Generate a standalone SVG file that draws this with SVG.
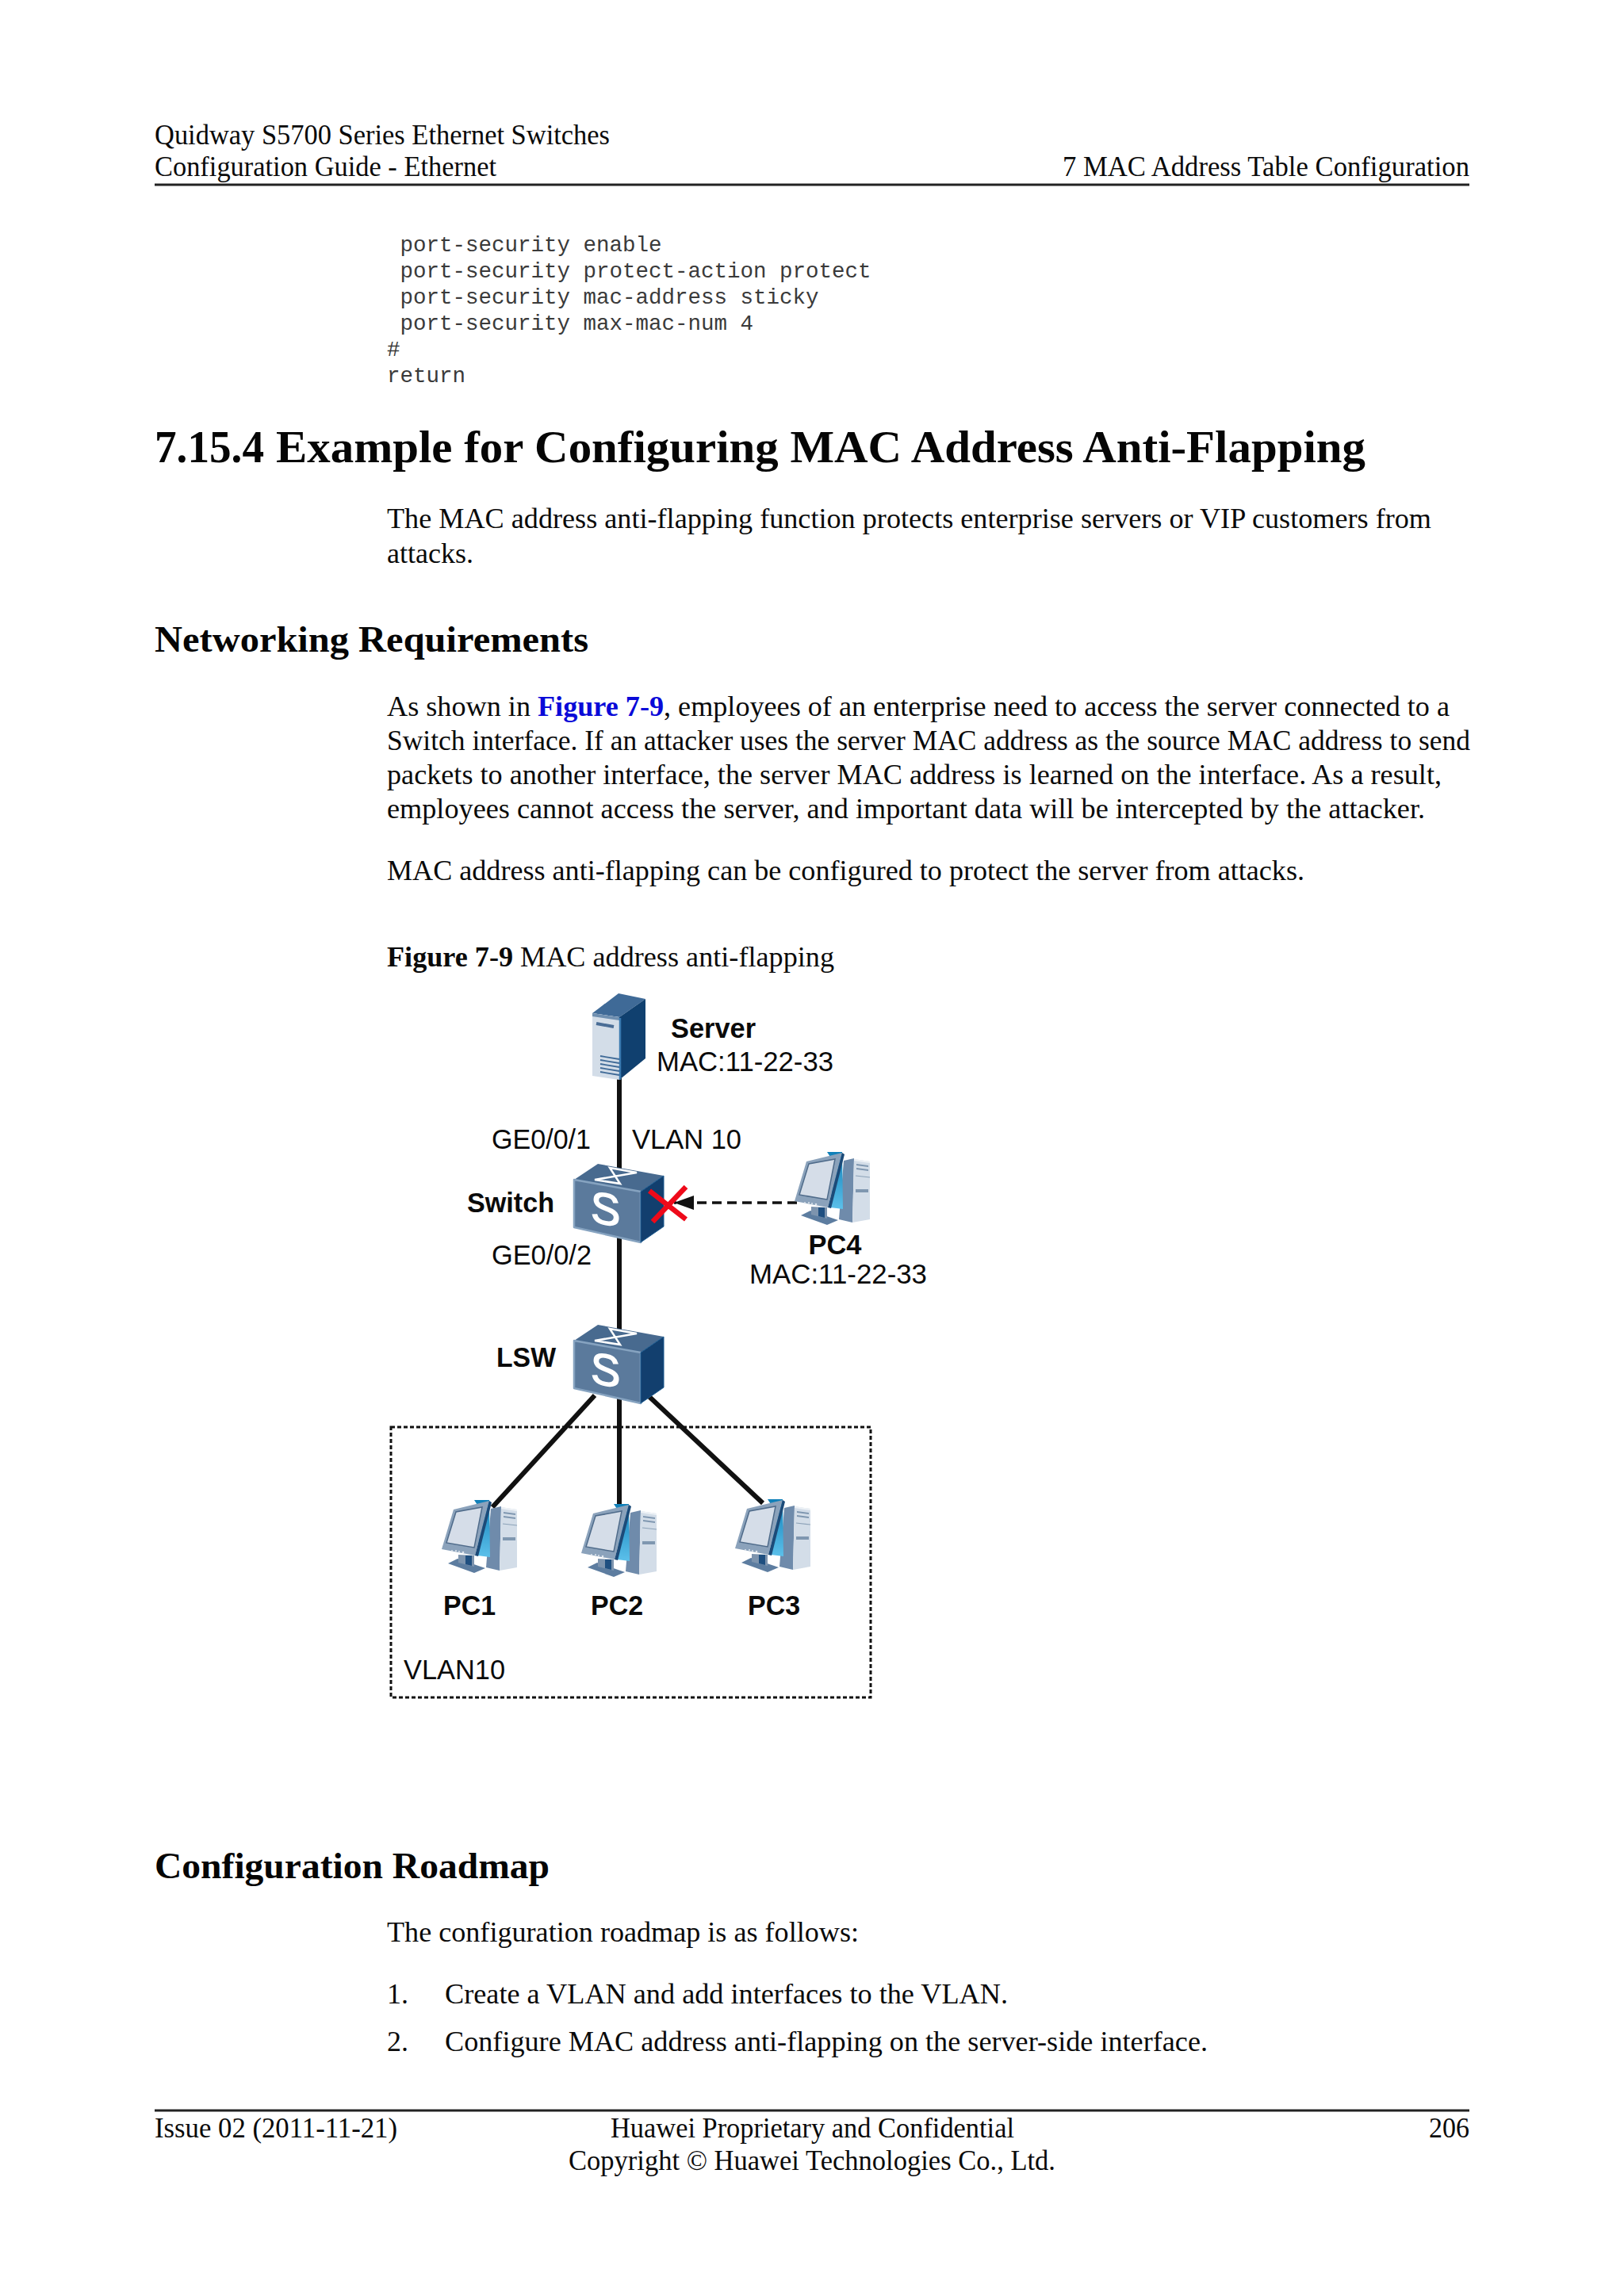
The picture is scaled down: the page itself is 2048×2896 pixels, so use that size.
<svg xmlns="http://www.w3.org/2000/svg" width="2048" height="2896" viewBox="0 0 2048 2896">
<style>
.b{font-family:"Liberation Serif",serif;font-size:36px;fill:#0a0a0a}
.bb{font-family:"Liberation Serif",serif;font-size:36px;font-weight:bold;fill:#0a0a0a}
.lnk{font-family:"Liberation Serif",serif;font-size:36px;font-weight:bold;fill:#0a0ad8}
.h1{font-family:"Liberation Serif",serif;font-size:58px;font-weight:bold;fill:#050505}
.h2{font-family:"Liberation Serif",serif;font-size:47px;font-weight:bold;fill:#050505}
.c{font-family:"Liberation Mono",monospace;font-size:27.5px;fill:#3a3a3a}
.l{font-family:"Liberation Sans",Arial,sans-serif;font-size:35px;fill:#0a0a0a}
.lb{font-family:"Liberation Sans",Arial,sans-serif;font-size:35px;font-weight:bold;fill:#0a0a0a}
.s{font-family:"Liberation Sans",Arial,sans-serif;font-size:56px;fill:#fff;stroke:#fff;stroke-width:1.5}
.wire{stroke:#111;stroke-width:6;fill:none}
.rule{stroke:#222;stroke-width:3}
</style>
<defs>
<linearGradient id="blue" x1="0" y1="0" x2="0" y2="1"><stop offset="0" stop-color="#0f7fb8"/><stop offset="1" stop-color="#5cc0ea"/></linearGradient>
<marker id="ah" markerUnits="userSpaceOnUse" markerWidth="26" markerHeight="20" refX="25" refY="9" orient="auto"><path d="M25 9L0 0V18Z" fill="#111"/></marker>
<symbol id="pc" width="96" height="93" viewBox="0 0 96 93" overflow="visible">
<path d="M62 11L75 8L73 89L56 85Z" fill="#6f8bab"/>
<path d="M75 9L95 12V85L73 89Z" fill="#d3dde8"/>
<path d="M75 9L95 12V14L75 11Z" fill="#eef2f6"/>
<path d="M78 15L93 17V19L78 17ZM78 20L93 22V24L78 22Z" fill="#7f97b0"/>
<path d="M77 30L95 32" stroke="#8ca2b8" stroke-width="1.2" fill="none"/>
<path d="M77 47L93 47V51L77 51Z" fill="#7f97b0"/>
<path d="M41 0H60L61 72L45 70L50 14Z" fill="url(#blue)"/>
<path d="M8 80L20 74L55 86L41 92Z" fill="#5d7da0"/>
<path d="M21 69L41 70V84L21 79Z" fill="#7d94ae"/>
<path d="M30 70L38 70V83L30 81Z" fill="#1f4f80"/>
<path d="M0 62L15 12L60 1L42 70Z" fill="#8ba2bb"/>
<path d="M60 1L63 3L46 71L42 70Z" fill="#1c4a78"/>
<path d="M6 54L18 15L51 9L41 60Z" fill="#d5dde8" stroke="#4f6b8a" stroke-width="1.5"/>
<g fill="#dfe6ee"><circle cx="13" cy="64" r="1"/><circle cx="18" cy="64" r="1"/><circle cx="22" cy="65" r="1"/><circle cx="27" cy="66" r="1.3"/></g>
</symbol>
<symbol id="sw" width="114" height="100" viewBox="0 0 114 100" overflow="visible">
<path d="M0 20L30 0L113 15L84 35Z" fill="#486a8f"/>
<path d="M0 20L84 35V99L0 80Z" fill="#5b7a9c" stroke="#86a3c0" stroke-width="2.5" stroke-linejoin="round"/>
<path d="M84 35L113 15V79L84 99Z" fill="#123f6e" stroke="#1a5a90" stroke-width="1"/>
<path d="M45 5L79 11L26 20L58 25Z" fill="none" stroke="#fff" stroke-width="2.5"/>
</symbol>
</defs>
<rect width="2048" height="2896" fill="#fff"/>

<g id="page-text">
<text class="b" x="195" y="182" textLength="574" lengthAdjust="spacingAndGlyphs">Quidway S5700 Series Ethernet Switches</text>
<text class="b" x="195" y="222" textLength="431" lengthAdjust="spacingAndGlyphs">Configuration Guide - Ethernet</text>
<text class="b" x="1340" y="222" textLength="513" lengthAdjust="spacingAndGlyphs">7 MAC Address Table Configuration</text>
<line class="rule" x1="195" y1="233" x2="1853" y2="233"/>
<text class="c" x="504.5" y="317">port-security enable</text>
<text class="c" x="504.5" y="350">port-security protect-action protect</text>
<text class="c" x="504.5" y="383">port-security mac-address sticky</text>
<text class="c" x="504.5" y="416">port-security max-mac-num 4</text>
<text class="c" x="488" y="449">#</text>
<text class="c" x="488" y="482">return</text>
<text class="h1" x="195" y="583" textLength="138" lengthAdjust="spacingAndGlyphs">7.15.4</text>
<text class="h1" x="348" y="583" textLength="1374" lengthAdjust="spacingAndGlyphs">Example for Configuring MAC Address Anti-Flapping</text>
<text class="b" x="488" y="666" textLength="1317" lengthAdjust="spacingAndGlyphs">The MAC address anti-flapping function protects enterprise servers or VIP customers from</text>
<text class="b" x="488" y="710" textLength="109" lengthAdjust="spacingAndGlyphs">attacks.</text>
<text class="h2" x="195" y="822" textLength="547" lengthAdjust="spacingAndGlyphs">Networking Requirements</text>
<text class="b" x="488" y="903" textLength="181" lengthAdjust="spacingAndGlyphs">As shown in</text>
<text class="lnk" x="678" y="903" textLength="159" lengthAdjust="spacingAndGlyphs">Figure 7-9</text>
<text class="b" x="837" y="903" textLength="991" lengthAdjust="spacingAndGlyphs">, employees of an enterprise need to access the server connected to a</text>
<text class="b" x="488" y="946" textLength="1366" lengthAdjust="spacingAndGlyphs">Switch interface. If an attacker uses the server MAC address as the source MAC address to send</text>
<text class="b" x="488" y="989" textLength="1330" lengthAdjust="spacingAndGlyphs">packets to another interface, the server MAC address is learned on the interface. As a result,</text>
<text class="b" x="488" y="1032" textLength="1309" lengthAdjust="spacingAndGlyphs">employees cannot access the server, and important data will be intercepted by the attacker.</text>
<text class="b" x="488" y="1110" textLength="1157" lengthAdjust="spacingAndGlyphs">MAC address anti-flapping can be configured to protect the server from attacks.</text>
<text class="bb" x="488" y="1219" textLength="159" lengthAdjust="spacingAndGlyphs">Figure 7-9</text>
<text class="b" x="656" y="1219" textLength="396" lengthAdjust="spacingAndGlyphs">MAC address anti-flapping</text>
<text class="h2" x="195" y="2369" textLength="498" lengthAdjust="spacingAndGlyphs">Configuration Roadmap</text>
<text class="b" x="488" y="2449" textLength="595" lengthAdjust="spacingAndGlyphs">The configuration roadmap is as follows:</text>
<text class="b" x="488" y="2527">1.</text>
<text class="b" x="561" y="2527" textLength="710" lengthAdjust="spacingAndGlyphs">Create a VLAN and add interfaces to the VLAN.</text>
<text class="b" x="488" y="2587">2.</text>
<text class="b" x="561" y="2587" textLength="962" lengthAdjust="spacingAndGlyphs">Configure MAC address anti-flapping on the server-side interface.</text>
<line class="rule" x1="195" y1="2662" x2="1853" y2="2662"/>
<text class="b" x="195" y="2696" textLength="306" lengthAdjust="spacingAndGlyphs">Issue 02 (2011-11-21)</text>
<text class="b" x="770" y="2696" textLength="509" lengthAdjust="spacingAndGlyphs">Huawei Proprietary and Confidential</text>
<text class="b" x="1802" y="2696" textLength="51" lengthAdjust="spacingAndGlyphs">206</text>
<text class="b" x="717" y="2737" textLength="614" lengthAdjust="spacingAndGlyphs">Copyright © Huawei Technologies Co., Ltd.</text>
</g>

<g id="connectors">
<line class="wire" x1="781" y1="1360" x2="781" y2="1480"/>
<line class="wire" x1="781" y1="1560" x2="781" y2="1680"/>
<line class="wire" x1="781" y1="1760" x2="781" y2="1897"/>
<line class="wire" x1="750" y1="1760" x2="621" y2="1901"/>
<line class="wire" x1="817" y1="1760" x2="962" y2="1896"/>
<line x1="1005" y1="1517" x2="850" y2="1517" stroke="#111" stroke-width="3.5" stroke-dasharray="12 7" marker-end="url(#ah)"/>
</g>

<g id="vlan10-box">
<rect x="493" y="1800" width="605" height="341" fill="none" stroke="#111" stroke-width="3" stroke-dasharray="5 3"/>
<text class="l" x="509" y="2118" textLength="128" lengthAdjust="spacingAndGlyphs">VLAN10</text>
</g>

<g id="server">
<path d="M747 1278L780 1253L814 1260L781 1283Z" fill="#3f6a97"/>
<path d="M747 1278L781 1283V1362L747 1357Z" fill="#d3dde8"/>
<path d="M747 1278L781 1283V1287L747 1282Z" fill="#6f8fb0"/>
<path d="M781 1283L814 1260V1335L781 1362Z" fill="#10406f"/>
<path d="M782 1284V1362" stroke="#3a7ab0" stroke-width="2.5"/>
<path d="M752 1291L774 1295" stroke="#4a6d96" stroke-width="4"/>
<path d="M757 1332L781 1336M757 1337L781 1341M757 1342L781 1346M757 1347L781 1351M757 1352L781 1356" stroke="#3f6a97" stroke-width="1.8" fill="none"/>
<text class="lb" x="846" y="1309" textLength="107" lengthAdjust="spacingAndGlyphs">Server</text>
<text class="l" x="828" y="1351" textLength="223" lengthAdjust="spacingAndGlyphs">MAC:11-22-33</text>
</g>

<g id="switch">
<use href="#sw" x="724" y="1468" width="114" height="100"/>
<text class="s" transform="translate(745 1541) skewY(10)">S</text>
<text class="lb" x="589" y="1529" textLength="110" lengthAdjust="spacingAndGlyphs">Switch</text>
<text class="l" x="620" y="1449" textLength="125" lengthAdjust="spacingAndGlyphs">GE0/0/1</text>
<text class="l" x="797" y="1449" textLength="138" lengthAdjust="spacingAndGlyphs">VLAN 10</text>
<text class="l" x="620" y="1595" textLength="126" lengthAdjust="spacingAndGlyphs">GE0/0/2</text>
<path d="M819 1502L865 1538M823 1541L865 1497" stroke="#ee0a1a" stroke-width="6.5" fill="none"/>
</g>

<g id="lsw">
<use href="#sw" x="724" y="1671" width="114" height="100"/>
<text class="s" transform="translate(745 1744) skewY(10)">S</text>
<text class="lb" x="626" y="1724" textLength="75" lengthAdjust="spacingAndGlyphs">LSW</text>
</g>

<g id="pc4">
<use href="#pc" x="1002" y="1453" width="96" height="93"/>
<text class="lb" x="1019.5" y="1582" textLength="67" lengthAdjust="spacingAndGlyphs">PC4</text>
<text class="l" x="945" y="1619" textLength="224" lengthAdjust="spacingAndGlyphs">MAC:11-22-33</text>
</g>
<g id="pc1">
<use href="#pc" x="557" y="1892" width="96" height="93"/>
<text class="lb" x="559" y="2037" textLength="66" lengthAdjust="spacingAndGlyphs">PC1</text>
</g>
<g id="pc2">
<use href="#pc" x="733" y="1897" width="96" height="93"/>
<text class="lb" x="745" y="2037" textLength="66" lengthAdjust="spacingAndGlyphs">PC2</text>
</g>
<g id="pc3">
<use href="#pc" x="927" y="1891" width="96" height="93"/>
<text class="lb" x="943" y="2037" textLength="66" lengthAdjust="spacingAndGlyphs">PC3</text>
</g>
</svg>
